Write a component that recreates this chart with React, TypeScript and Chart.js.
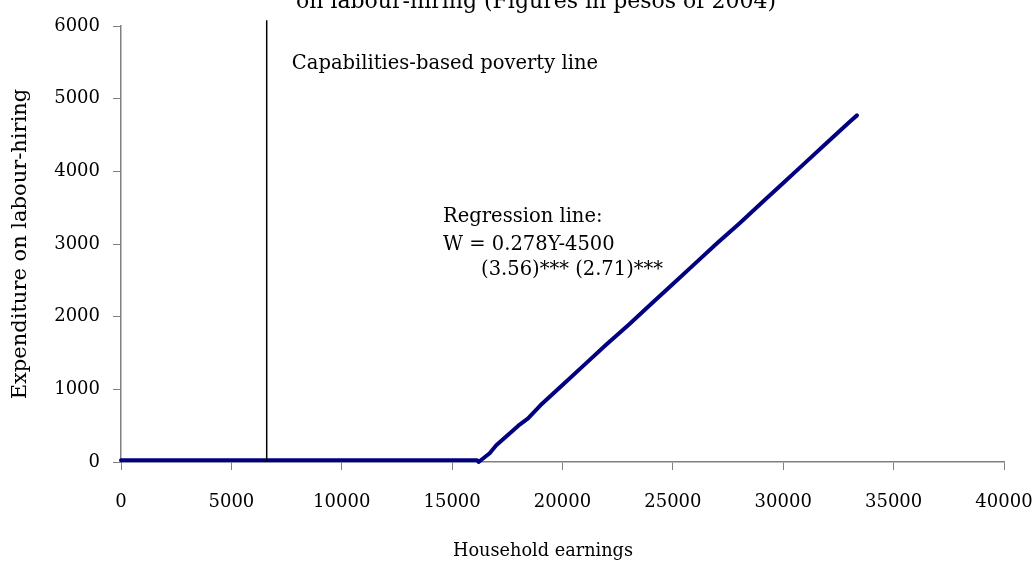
import React, { useEffect, useRef } from "react";
import { Chart, registerables } from "chart.js";

Chart.register(...registerables);

// Household earnings (x) and expenditure on labour-hiring (y)
const earnings: number[] = [0, 16130, 16200, 16700, 17000, 18000, 18440, 19000, 20000, 21000, 22000, 23000, 24000, 25000, 26000, 27000, 28000, 29000, 30000, 31000, 32000, 33000, 33340];
const expenditure: number[] = [25, 25, 0, 120, 230, 500, 600, 780, 1060, 1340, 1620, 1890, 2170, 2450, 2730, 3010, 3280, 3560, 3840, 4120, 4400, 4680, 4770];

// Capabilities-based poverty line
const povertyX: number[] = [6600, 6600];
const povertyY: number[] = [0, 6080];

const xTicks: number[] = [0, 5000, 10000, 15000, 20000, 25000, 30000, 35000, 40000];
const yTicks: number[] = [0, 1000, 2000, 3000, 4000, 5000, 6000];

const titleText = "on labour-hiring (Figures in pesos of 2004)";
const xTitle = "Household earnings";
const yTitle = "Expenditure on labour-hiring";
const povertyLabel = "Capabilities-based poverty line";
const regressionLabel: string[] = ["Regression line:", "W = 0.278Y-4500", "(3.56)*** (2.71)***"];

const FONT = "'DejaVu Serif', serif";
const OFFSET = 20; // canvas shifted up so the first title line is off the page

export default function App() {
  const ref = useRef<HTMLCanvasElement | null>(null);

  useEffect(() => {
    if (!ref.current) return;
    const textPlugin = {
      id: "texts",
      afterDraw(chart: any) {
        const ctx = chart.ctx;
        const xs = chart.scales.x;
        const ys = chart.scales.y;
        ctx.save();
        ctx.fillStyle = "#000";
        ctx.textBaseline = "alphabetic";
        ctx.textAlign = "center";
        ctx.font = `22px ${FONT}`;
        ctx.fillText(titleText, 536, 8 + OFFSET);
        ctx.font = `17.7px ${FONT}`;
        ctx.fillText(xTitle, 543, 556 + OFFSET);
        ctx.textAlign = "left";
        ctx.textBaseline = "middle";
        ctx.font = `19.5px ${FONT}`;
        ctx.fillText(povertyLabel, xs.getPixelForValue(7740), ys.getPixelForValue(5480));
        ctx.fillText(regressionLabel[0], xs.getPixelForValue(14590), ys.getPixelForValue(3370));
        ctx.fillText(regressionLabel[1], xs.getPixelForValue(14590), ys.getPixelForValue(2990));
        ctx.fillText(regressionLabel[2], xs.getPixelForValue(16310), ys.getPixelForValue(2640));
        ctx.restore();
      },
    };

    const chart = new Chart(ref.current, {
      type: "scatter",
      data: {
        datasets: [
          {
            label: "Poverty line",
            data: povertyX.map((x, i) => ({ x, y: povertyY[i] })),
            showLine: true,
            borderColor: "#000",
            borderWidth: 1.5,
            pointRadius: 0,
            clip: false as any,
          },
          {
            label: "Expenditure",
            data: earnings.map((x, i) => ({ x, y: expenditure[i] })),
            showLine: true,
            borderColor: "#000080",
            borderWidth: 4,
            borderCapStyle: "round",
            borderJoinStyle: "round",
            pointRadius: 0,
            tension: 0,
            clip: false as any,
          },
        ],
      },
      options: {
        animation: false,
        responsive: false,
        maintainAspectRatio: false,
        layout: { padding: { top: 26 + OFFSET, right: 31, bottom: 0, left: 0 } },
        plugins: {
          legend: { display: false },
          tooltip: { enabled: false },
          title: { display: false },
        },
        scales: {
          x: {
            type: "linear",
            min: 0,
            max: 40000,
            afterBuildTicks: (s: any) => {
              s.ticks = xTicks.map((v) => ({ value: v }));
            },
            afterFit: (s: any) => {
              s.height = 100;
              s.paddingLeft = 0;
              s.paddingRight = 0;
            },
            grid: { drawOnChartArea: false, drawTicks: true, tickLength: 8, color: "#808080" },
            border: { color: "#808080", width: 1.5 },
            ticks: {
              color: "#000",
              font: { family: FONT, size: 18 },
              padding: 22,
              maxRotation: 0,
              autoSkip: false,
              callback: (v: any) => String(v),
            },
          },
          y: {
            type: "linear",
            min: 0,
            max: 6000,
            afterBuildTicks: (s: any) => {
              s.ticks = yTicks.map((v) => ({ value: v }));
            },
            afterFit: (s: any) => {
              s.width = 121;
              s.paddingTop = 0;
              s.paddingBottom = 0;
            },
            grid: { drawOnChartArea: false, drawTicks: true, tickLength: 8, color: "#808080" },
            border: { color: "#808080", width: 1.5 },
            ticks: {
              color: "#000",
              font: { family: FONT, size: 18 },
              padding: 13,
              autoSkip: false,
              callback: (v: any) => String(v),
            },
            title: {
              display: true,
              text: yTitle,
              color: "#000",
              font: { family: FONT, size: 21 },
              padding: { top: 8, bottom: 0 },
            },
          },
        },
      },
      plugins: [textPlugin],
    });
    return () => chart.destroy();
  }, []);

  return (
    <div style={{ position: "fixed", left: 0, top: -OFFSET, width: 1035, height: 562 + OFFSET, background: "#fff" }}>
      <canvas ref={ref} width={1035} height={562 + OFFSET} style={{ display: "block", width: 1035, height: 562 + OFFSET }} />
    </div>
  );
}
